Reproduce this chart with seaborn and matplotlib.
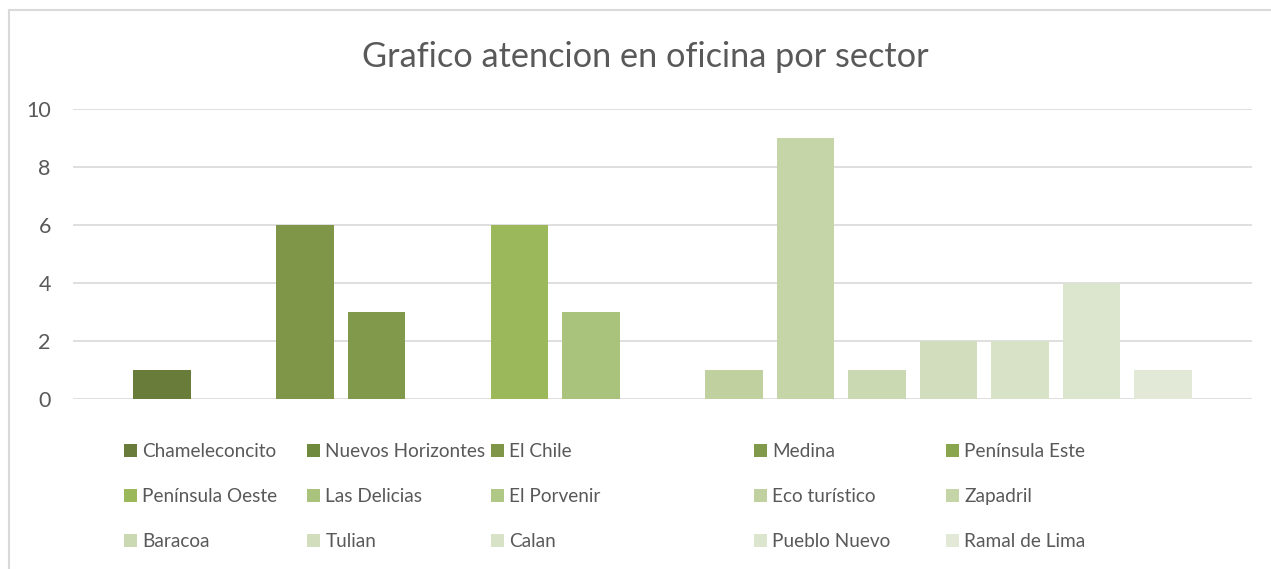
import matplotlib
matplotlib.use("Agg")
import matplotlib.pyplot as plt
import seaborn as sns
import pandas as pd
from matplotlib.patches import Patch, Rectangle

sectores = ["Chameleconcito", "Nuevos Horizontes", "El Chile", "Medina", "Península Este",
            "Península Oeste", "Las Delicias", "El Porvenir", "Eco turístico", "Zapadril",
            "Baracoa", "Tulian", "Calan", "Pueblo Nuevo", "Ramal de Lima"]
valores = [1, 0, 6, 3, 0, 6, 3, 0, 1, 9, 1, 2, 2, 4, 1]
colores = ["#6A7C3A", "#6F8A3D", "#7F9648", "#80994A", "#89A54E",
           "#9BB85A", "#A9C27C", "#B0C886", "#C0D09F", "#C6D5A8",
           "#CBD9B3", "#D1DDBC", "#D8E2C6", "#DCE5CE", "#E2E9D6"]
titulo = "Grafico atencion en oficina por sector"
yticks = [0, 2, 4, 6, 8, 10]

sns.set_theme(style="white")
plt.rcParams['font.family'] = ['Lato', 'DejaVu Sans']

df = pd.DataFrame({"sector": sectores, "valor": valores})

W, H = 1271, 569
fig = plt.figure(figsize=(W / 100, H / 100), dpi=100)
ax = fig.add_axes([73 / W, 1 - 399 / H, (1252 - 73) / W, (399 - 109) / H])

sns.barplot(data=df, x="sector", y="valor", hue="sector", palette=colores,
            dodge=False, legend=False, width=0.8, saturation=1, linewidth=0, ax=ax)

ax.set_ylim(0, 10)
ax.set_xlim(-1.245, len(sectores) - 1 + 1.245)
ax.set_yticks(yticks)
ax.set_yticklabels([str(t) for t in yticks])
ax.set_xticks([])
ax.set_xlabel("")
ax.set_ylabel("")
for s in ax.spines.values():
    s.set_visible(False)
ax.yaxis.grid(True, color="#D9D9D9", linewidth=1.2)
ax.set_axisbelow(True)
ax.tick_params(axis="y", length=0, pad=16, labelsize=15.5, labelcolor="#595959")

# chart border
fig.patches.append(Rectangle((8.5 / W, -0.1), 2, 1 - 10 / H + 0.1, transform=fig.transFigure,
                             fill=False, edgecolor="#D9D9D9", linewidth=1.5))

fig.text(645 / W, 1 - 57 / H, titulo, ha="center", va="center", fontsize=24.7,
         color="#595959", fontweight="normal")

# legend: 5 columns, filled row-wise
col_x = [124, 307, 491, 754, 946]
ncol = 5
for c in range(ncol):
    idx = [r * ncol + c for r in range(3)]
    handles = [Patch(facecolor=colores[i], edgecolor="none") for i in idx]
    labels = [sectores[i] for i in idx]
    fig.legend(handles, labels, loc="upper left",
               bbox_to_anchor=(col_x[c] / W, 1 - 443 / H),
               frameon=False, borderpad=0, fontsize=13.7,
               handlelength=0.66, handleheight=0.66, handletextpad=0.3,
               labelspacing=1.47, labelcolor="#595959", borderaxespad=0)

fig.savefig("out.png", dpi=100, facecolor="white")
